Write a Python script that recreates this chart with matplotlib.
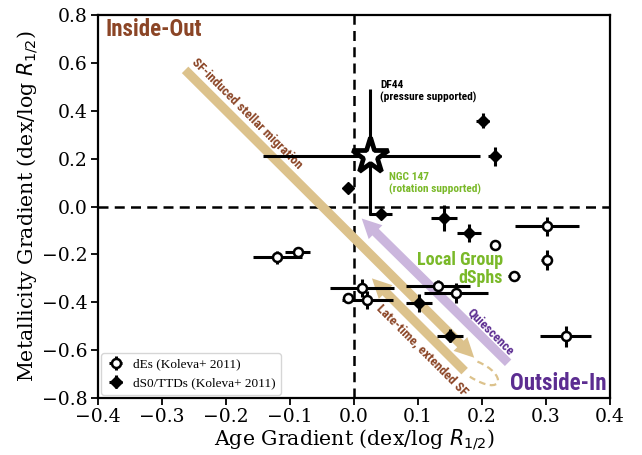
import matplotlib
matplotlib.use("Agg")
import matplotlib.pyplot as plt
from matplotlib.path import Path
from matplotlib.patches import PathPatch

plt.rcParams['font.family'] = 'DejaVu Serif'
plt.rcParams['mathtext.fontset'] = 'dejavusans'

# dEs (Koleva+ 2011)
dE_age = [-0.120, -0.088, 0.012, -0.009, 0.021, 0.131, 0.160, 0.220, 0.250, 0.301, 0.301, 0.331]
dE_met = [-0.213, -0.190, -0.341, -0.383, -0.390, -0.334, -0.362, -0.160, -0.292, -0.083, -0.223, -0.543]
dE_age_err = [0.038, 0.020, 0.050, 0.008, 0.040, 0.050, 0.050, 0.005, 0.010, 0.050, 0.008, 0.040]
dE_met_err = [0.028, 0.015, 0.038, 0.012, 0.038, 0.028, 0.042, 0.022, 0.008, 0.040, 0.042, 0.042]

# dS0/TTDs (Koleva+ 2011)
dS0_age = [-0.010, 0.042, 0.141, 0.180, 0.201, 0.220, 0.102, 0.150]
dS0_met = [0.079, -0.031, -0.048, -0.111, 0.359, 0.209, -0.404, -0.540]
dS0_age_err = [0.006, 0.018, 0.020, 0.019, 0.010, 0.010, 0.020, 0.020]
dS0_met_err = [0.008, 0.006, 0.056, 0.037, 0.031, 0.040, 0.038, 0.028]

# DF44
df44_age = 0.025
df44_met = 0.212
df44_age_err = [[0.167], [0.172]]
df44_met_err = [[0.247], [0.278]]

tan = '#dcc28c'
lilac = '#cbb6dd'
brown = '#8b4526'
purple = '#5c2d91'
green = '#7ab929'
cond = ['Roboto Condensed', 'Liberation Sans Narrow', 'Roboto', 'DejaVu Sans']

fig = plt.figure(figsize=(6.42, 4.55), dpi=100)
ax = fig.add_axes([0.1527, 0.1253, 0.7973, 0.8417])

ax.axvline(0, color='k', ls='--', lw=1.8, dashes=(4, 2.5), zorder=1)
ax.axhline(0, color='k', ls='--', lw=1.8, dashes=(4, 2.5), zorder=1)

# evolutionary tracks
arrow = 'simple,head_length=0.7,head_width=0.7,tail_width=0.33'
ax.annotate('', xy=(0.191, -0.640), xytext=(-0.267, 0.579),
            arrowprops=dict(arrowstyle=arrow, color=tan, lw=0, mutation_scale=20), zorder=2)
ax.annotate('', xy=(0.025, -0.292), xytext=(0.176, -0.696),
            arrowprops=dict(arrowstyle=arrow, color=tan, lw=0, mutation_scale=20), zorder=2)
ax.annotate('', xy=(0.009, -0.042), xytext=(0.244, -0.661),
            arrowprops=dict(arrowstyle=arrow, color=lilac, lw=0, mutation_scale=20), zorder=2)
loop = Path([(0.193, -0.648), (0.240, -0.700), (0.235, -0.800), (0.181, -0.711)],
            [Path.MOVETO, Path.CURVE4, Path.CURVE4, Path.CURVE4])
ax.add_patch(PathPatch(loop, fill=False, ec=tan, lw=1.6, ls=(0, (3, 2)), zorder=2))

ekw = dict(ecolor='k', elinewidth=2.2, capsize=0, ls='none', zorder=4)
ax.errorbar(dE_age, dE_met, xerr=dE_age_err, yerr=dE_met_err, fmt='o', ms=6.5,
            mfc='white', mec='k', mew=1.8, label='dEs (Koleva+ 2011)', **ekw)
ax.errorbar(dS0_age, dS0_met, xerr=dS0_age_err, yerr=dS0_met_err, fmt='D', ms=6,
            mfc='k', mec='k', label='dS0/TTDs (Koleva+ 2011)', **ekw)
ax.errorbar([df44_age], [df44_met], xerr=df44_age_err, yerr=df44_met_err, fmt='*',
            ms=27, mfc='white', mec='k', mew=3.4, ecolor='k', elinewidth=2.2,
            capsize=0, zorder=5)

ax.text(-0.389, 0.787, 'Inside-Out', color=brown, family=cond, weight='bold',
        fontsize=16.5, ha='left', va='top')
ax.text(0.395, -0.789, 'Outside-In', color=purple, family=cond, weight='bold',
        fontsize=16.5, ha='right', va='bottom')
ax.text(-0.167, 0.387, 'SF-induced stellar migration', color=brown, family=cond,
        weight='bold', fontsize=9.5, rotation=-45, ha='center', va='center')
ax.text(0.107, -0.600, 'Late-time, extended SF', color=brown, family=cond,
        weight='bold', fontsize=9.6, rotation=-45, ha='center', va='center')
ax.text(0.2125, -0.523, 'Quiescence', color=purple, family=cond,
        weight='bold', fontsize=9.4, rotation=-45, ha='center', va='center')
ax.text(0.233, -0.185, 'Local Group\ndSphs', color=green, family=cond,
        weight='bold', fontsize=13, ha='right', va='top', linespacing=1.05)
ax.text(0.041, 0.528, 'DF44\n(pressure supported)', color='k', family=cond,
        weight='bold', fontsize=8.2, ha='left', va='top')
ax.text(0.055, 0.144, 'NGC 147\n(rotation supported)', color=green, family=cond,
        weight='bold', fontsize=8.2, ha='left', va='top')

ax.set_xlim(-0.4, 0.4)
ax.set_ylim(-0.8, 0.8)
ax.set_xticks([-0.4, -0.3, -0.2, -0.1, 0.0, 0.1, 0.2, 0.3, 0.4])
ax.set_yticks([-0.8, -0.6, -0.4, -0.2, 0.0, 0.2, 0.4, 0.6, 0.8])
ax.tick_params(labelsize=13.5, width=1.3, length=5, pad=2.5)
for s in ax.spines.values():
    s.set_linewidth(1.6)
ax.set_xlabel(r'Age Gradient (dex/log $R_{1/2}$)', fontsize=14.8, labelpad=1)
ax.set_ylabel(r'Metallicity Gradient (dex/log $R_{1/2}$)', fontsize=14.8, labelpad=1)

ax.legend(loc='lower left', prop={'family': 'Liberation Serif', 'size': 9.5},
          borderaxespad=0.25, handletextpad=0.6, handlelength=1.4)

fig.savefig('out.png', dpi=100)
